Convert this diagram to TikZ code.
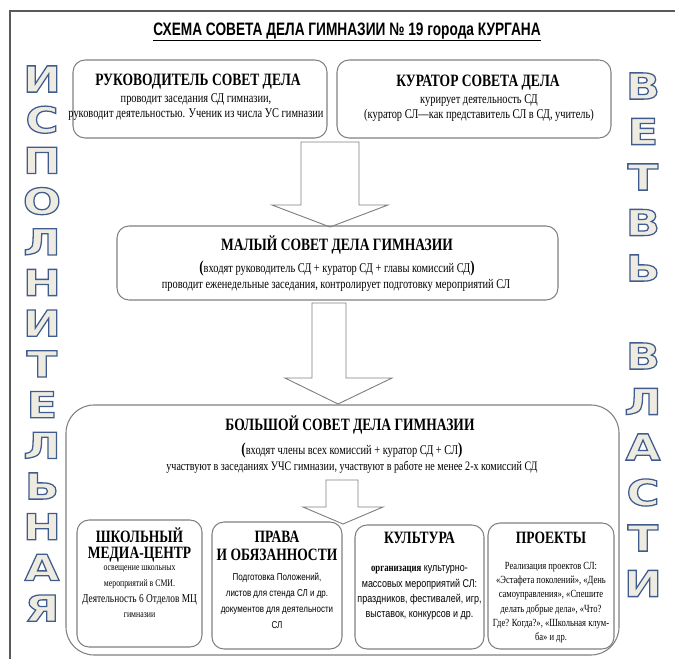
\documentclass[tikz,border=0pt]{standalone}
\usepackage{fontspec}
\setmainfont{Liberation Serif}
\setsansfont{Liberation Sans}
\newfontfamily\narrowserif[FakeStretch=0.78]{Liberation Serif}
\newfontfamily\narrowsans[FakeStretch=0.8]{Liberation Sans}
\newfontfamily\titlesans[FakeStretch=0.76]{Liberation Sans}
\newfontfamily\lettersans[FakeStretch=1.25,FakeBold=3.5]{DejaVu Sans Bold}
\usetikzlibrary{calc,fit}
\definecolor{boxgray}{RGB}{128,128,128}
\definecolor{framegray}{RGB}{90,90,90}

% контурная буква: заливка кремовая, обводка синяя
\newcommand{\outletter}[1]{\special{pdf:bc [0.933 0.925 0.882] [0.25 0.36 0.56]}#1\special{pdf:ec}}

\begin{document}
\begin{tikzpicture}[x=0.75pt,y=-0.75pt,
  box/.style={draw=boxgray,line width=0.8pt,rounded corners=9pt,inner sep=0pt},
  bigbox/.style={box,rounded corners=21pt},
  blockarr/.style={draw=boxgray,line width=0.7pt,fill=white},
  head/.style={font=\narrowserif\bfseries\fontsize{13}{15}\selectfont,inner sep=0pt},
  body/.style={font=\narrowserif\fontsize{10}{11.25}\selectfont,align=center,inner sep=0pt},
  sbody/.style={font=\narrowsans\fontsize{7.5}{12}\selectfont,align=center,inner sep=0pt},
  bigletter/.style={font=\lettersans\fontsize{27}{27}\selectfont,inner sep=0pt}]

  % Размер рисунка
  \useasboundingbox (0,0) rectangle (675,659);

  % Рамка листа
  \draw[framegray,line width=0.8pt] (10,659) -- (10,11) -- (675,11);

  % Заголовок
  \node[font=\titlesans\bfseries\fontsize{13.5}{15}\selectfont,inner sep=0pt] (title) at (347,32)
    {\underline{СХЕМА СОВЕТА ДЕЛА ГИМНАЗИИ № 19 города КУРГАНА}};

  % Вертикальные надписи
  \foreach \c [count=\i] in {И,С,П,О,Л,Н,И,Т,Е,Л,Ь,Н,А,Я}
    \node[bigletter] (isp-\i) at (42,{79+40.7*(\i-1)}) {\outletter{\c}};
  \foreach \c [count=\i] in {В,Е,Т,В,Ь}
    \node[bigletter] (vet-\i) at (643,{86+45.5*(\i-1)}) {\outletter{\c}};
  \foreach \c [count=\i] in {В,Л,А,С,Т,И}
    \node[bigletter] (vla-\i) at (643,{356+45.5*(\i-1)}) {\outletter{\c}};

  % Верхний ряд
  \node[box,fit={(73,60) (327,138)}] (ruk) {};
  \node[head] (ruk-t) at (198,82) {РУКОВОДИТЕЛЬ СОВЕТ ДЕЛА};
  \node[body] (ruk-b) at (196,107.5) {проводит заседания СД гимназии,\\руководит деятельностью. Ученик из числа УС гимназии};

  \node[box,fit={(337,60) (611,138)}] (kur) {};
  \node[head] (kur-t) at (478,83) {КУРАТОР СОВЕТА ДЕЛА};
  \node[body] (kur-b) at (479,108.5) {курирует деятельность СД\\(куратор СЛ—как представитель СЛ в СД, учитель)};

  \draw[blockarr] (301,142) -- (359,142) -- (359,205) -- (388,205) -- (330,227)
    -- (272,205) -- (301,205) -- cycle;

  % Малый совет
  \node[box,fit={(117,226) (558,300)}] (malyi) {};
  \node[head] (malyi-t) at (337,245) {МАЛЫЙ СОВЕТ ДЕЛА ГИМНАЗИИ};
  \node[body] (malyi-b1) at (337,268) {{\bfseries\fontsize{12.5}{12}\selectfont(}входят руководитель СД + куратор СД + главы комиссий СД{\bfseries\fontsize{12.5}{12}\selectfont)}};
  \node[body] (malyi-b2) at (336,285) {проводит еженедельные заседания, контролирует подготовку мероприятий СЛ};

  \draw[blockarr] (312,303) -- (346,303) -- (346,378) -- (392,378) -- (338,404)
    -- (285,378) -- (312,378) -- cycle;

  % Большой совет
  \node[bigbox,fit={(66,405) (619,655)}] (bolshoi) {};
  \node[head] (bolshoi-t) at (350,425) {БОЛЬШОЙ СОВЕТ ДЕЛА ГИМНАЗИИ};
  \node[body] (bolshoi-b1) at (352,450) {{\bfseries\fontsize{12.5}{12}\selectfont(}входят члены всех комиссий + куратор СД + СЛ{\bfseries\fontsize{12.5}{12}\selectfont)}};
  \node[body,font=\narrowserif\fontsize{9.7}{11.25}\selectfont] (bolshoi-b2) at (352,467) {участвуют в заседаниях УЧС гимназии, участвуют в работе не менее 2-х комиссий СД};

  \draw[blockarr] (326,480) -- (358,480) -- (358,507) -- (383,507) -- (343,524)
    -- (303,507) -- (326,507) -- cycle;

  % Комиссии
  \node[box,fit={(77,520) (202,647)}] (media) {};
  \node[head,align=center,font=\narrowserif\bfseries\fontsize{13}{12}\selectfont] (media-t) at (139.5,545) {ШКОЛЬНЫЙ\\МЕДИА-ЦЕНТР};
  \node[body,font=\narrowserif\fontsize{7.5}{11.8}\selectfont] (media-b) at (139.5,592) {освещение школьных\\мероприятий в СМИ.\\{\fontsize{9}{11.8}\selectfont Деятельность 6 Отделов МЦ}\\гимназии};

  \node[box,fit={(212,522) (342,649)}] (prava) {};
  \node[head,align=center,font=\narrowserif\bfseries\fontsize{13}{13.5}\selectfont] (prava-t) at (277,546) {ПРАВА\\И ОБЯЗАННОСТИ};
  \node[sbody] (prava-b) at (277,601) {Подготовка Положений,\\листов для стенда СЛ и др.\\документов для деятельности\\СЛ};

  \node[box,fit={(355,525) (484,649)}] (kult) {};
  \node[head,font=\narrowserif\bfseries\fontsize{13}{14}\selectfont] (kult-t) at (419.5,538) {КУЛЬТУРА};
  \node[sbody,font=\narrowsans\fontsize{8.4}{11.5}\selectfont] (kult-b) at (419.5,593) {{\narrowserif\bfseries организация} культурно-\\массовых мероприятий СЛ:\\праздников, фестивалей, игр,\\выставок, конкурсов и др.};

  \node[box,fit={(488,523) (614,649)}] (proekt) {};
  \node[head,font=\narrowserif\bfseries\fontsize{13}{14}\selectfont] (proekt-t) at (551,538) {ПРОЕКТЫ};
  \node[body,font=\narrowserif\fontsize{8.2}{10.7}\selectfont] (proekt-b) at (551,602.5) {Реализация проектов СЛ:\\«Эстафета поколений», «День\\самоуправления», «Спешите\\делать добрые дела», «Что?\\Где? Когда?», «Школьная клум-\\ба» и др.};

\end{tikzpicture}
\end{document}
